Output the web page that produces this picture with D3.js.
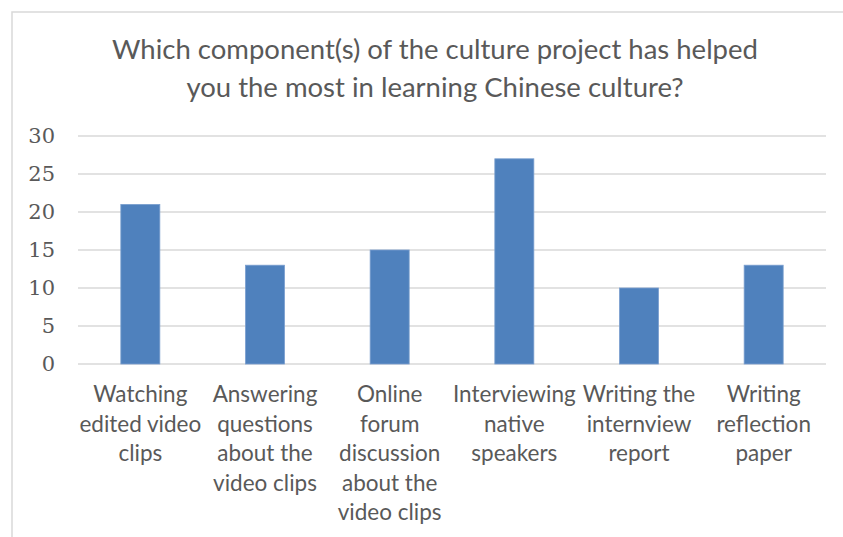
<!DOCTYPE html>
<html>
<head>
<meta charset="utf-8">
<script src="https://cdn.jsdelivr.net/npm/d3@7"></script>
<style>
  html, body { margin: 0; padding: 0; background: #fff; }
  svg { display: block; }
</style>
</head>
<body>
<svg id="chart" width="843" height="537"></svg>
<script>
const titleLines = ["Which component(s) of the culture project has helped", "you the most in learning Chinese culture?"];
const categories = [
  "Watching\nedited video\nclips",
  "Answering\nquestions\nabout the\nvideo clips",
  "Online\nforum\ndiscussion\nabout the\nvideo clips",
  "Interviewing\nnative\nspeakers",
  "Writing the\ninternview\nreport",
  "Writing\nreflection\npaper"
];
const values = [21, 13, 15, 27, 10, 13];
const yTicks = [0, 5, 10, 15, 20, 25, 30];

const svg = d3.select("#chart");
const W = 843, H = 537;

// chart border
svg.append("rect")
  .attr("x", 12).attr("y", 12)
  .attr("width", W + 10).attr("height", H + 10)
  .attr("fill", "#fff").attr("stroke", "#d9d9d9").attr("stroke-width", 1.5);

const plot = { left: 78, right: 826, top: 136, bottom: 364 };

const x = d3.scaleBand().domain(categories).range([plot.left, plot.right]).paddingInner(0.687).paddingOuter(0.3435);
const y = d3.scaleLinear().domain([0, 30]).range([plot.bottom, plot.top]);

// title
const title = svg.append("text")
  .attr("x", 435).attr("y", 59)
  .attr("text-anchor", "middle")
  .attr("font-family", "Lato, 'Open Sans', sans-serif")
  .attr("font-size", 27.5)
  .attr("fill", "#595959");
titleLines.forEach((t, i) => {
  title.append("tspan").attr("x", 435).attr("dy", i === 0 ? 0 : 37.5).text(t);
});

// gridlines
svg.append("g")
  .selectAll("line").data(yTicks).join("line")
  .attr("x1", plot.left).attr("x2", plot.right)
  .attr("y1", d => y(d)).attr("y2", d => y(d))
  .attr("stroke", "#d9d9d9").attr("stroke-width", 1.5);

// y axis labels
const yAxis = d3.axisLeft(y).tickValues(yTicks).tickSize(0).tickPadding(0);
const yg = svg.append("g").attr("transform", "translate(55,0)").call(yAxis);
yg.select(".domain").remove();
yg.selectAll("text")
  .attr("font-family", "'DejaVu Serif', serif")
  .attr("font-size", 21)
  .attr("fill", "#595959");

// bars
svg.append("g")
  .selectAll("rect").data(values).join("rect")
  .attr("x", (d, i) => x(categories[i]))
  .attr("width", x.bandwidth())
  .attr("y", d => y(d))
  .attr("height", d => y(0) - y(d))
  .attr("fill", "#4f81bd")
  .attr("stroke", "#7a9fcf").attr("stroke-width", 0.8);

// x labels
const xg = svg.append("g");
categories.forEach((c, i) => {
  const cx = x(c) + x.bandwidth() / 2;
  const t = xg.append("text")
    .attr("x", cx).attr("y", 402)
    .attr("text-anchor", "middle")
    .attr("font-family", "Lato, 'Open Sans', sans-serif")
    .attr("font-size", 22.5)
    .attr("fill", "#595959");
  c.split("\n").forEach((line, j) => {
    t.append("tspan").attr("x", cx).attr("dy", j === 0 ? 0 : 29.6).text(line);
  });
});
</script>
</body>
</html>
